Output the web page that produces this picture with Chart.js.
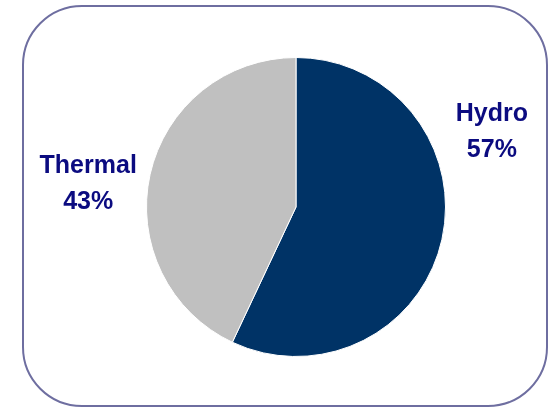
<!DOCTYPE html>
<html>
<head>
<meta charset="utf-8">
<script src="https://cdn.jsdelivr.net/npm/chart.js@4"></script>
<style>
    html, body { margin: 0; padding: 0; background: #fff; }
    #wrap { position: relative; width: 553px; height: 407px; overflow: hidden; }
    #frame {
        position: absolute; left: 22px; top: 5px; width: 522px; height: 398px;
        border: 2px solid #6e6ea0; border-radius: 60px;
    }
    #chart { position: absolute; left: 0; top: 0; }
</style>
</head>
<body>
<div id="wrap">
    <div id="frame"></div>
    <canvas id="chart" width="553" height="407"></canvas>
</div>
<script>
const labels = ["Hydro", "Thermal"];
const shares = [57, 43];
const colors = ["#003366", "#c0c0c0"];
// label placement relative to the pie, in radii (x, y)
const labelOffsets = [[1.31, -0.50], [-1.39, -0.15]];

// ===== Labels beside each slice =====
const sliceLabels = {
    id: "sliceLabels",
    afterDatasetsDraw(chart) {
        const ctx = chart.ctx;
        const meta = chart.getDatasetMeta(0);
        ctx.save();
        ctx.fillStyle = "#0b0b80";
        ctx.font = "bold 25px 'Liberation Sans', Arial, sans-serif";
        ctx.textAlign = "center";
        ctx.textBaseline = "middle";
        meta.data.forEach((arc, i) => {
            const r = arc.outerRadius;
            const x = arc.x + labelOffsets[i][0] * r;
            const y = arc.y + labelOffsets[i][1] * r;
            ctx.fillText(labels[i], x, y - 18);
            ctx.fillText(shares[i] + "%", x, y + 18);
        });
        ctx.restore();
    }
};

new Chart(document.getElementById("chart"), {
    type: "pie",
    data: {
        labels: labels,
        datasets: [{
            data: shares,
            backgroundColor: colors,
            borderColor: "#ffffff",
            borderWidth: 1
        }]
    },
    options: {
        responsive: false,
        animation: false,
        layout: { padding: { left: 146, right: 107, top: 57, bottom: 50 } },
        plugins: {
            legend: { display: false },
            tooltip: { enabled: false }
        }
    },
    plugins: [sliceLabels]
});
</script>
</body>
</html>
